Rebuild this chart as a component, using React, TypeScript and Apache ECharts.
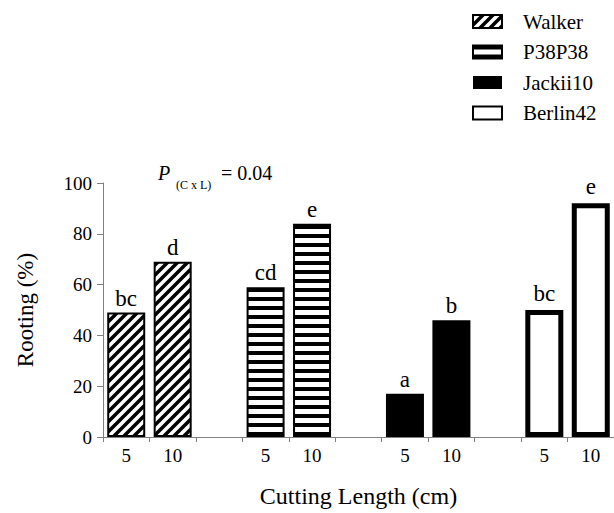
import React, { useEffect, useRef } from 'react';
import * as echarts from 'echarts';

const categories = ['5', '10', '', '5', '10', '', '5', '10', '', '5', '10'];
const seriesNames = ['Walker', 'P38P38', 'Jackii10', 'Berlin42'];
const walker = [49, 69, null, null, null, null, null, null, null, null, null];
const p38p38 = [null, null, null, 59, 84, null, null, null, null, null, null];
const jackii10 = [null, null, null, null, null, null, 17, 46, null, null, null];
const berlin42 = [null, null, null, null, null, null, null, null, null, 50, 92];
const letters = ['bc', 'd', '', 'cd', 'e', '', 'a', 'b', '', 'bc', 'e'];
const yTicks = [0, 20, 40, 60, 80, 100];

const FONT = 'Liberation Serif';

function diagTile(): HTMLCanvasElement {
  const c = document.createElement('canvas');
  c.width = 10;
  c.height = 10;
  const ctx = c.getContext('2d')!;
  ctx.fillStyle = '#fff';
  ctx.fillRect(0, 0, 10, 10);
  ctx.strokeStyle = '#000';
  ctx.lineWidth = 3.5;
  ctx.beginPath();
  ctx.moveTo(-5, 15); ctx.lineTo(15, -5);
  ctx.moveTo(-10, 10); ctx.lineTo(10, -10);
  ctx.moveTo(0, 20); ctx.lineTo(20, 0);
  ctx.stroke();
  return c;
}

function horizTile(): HTMLCanvasElement {
  const c = document.createElement('canvas');
  c.width = 4;
  c.height = 9;
  const ctx = c.getContext('2d')!;
  ctx.fillStyle = '#fff';
  ctx.fillRect(0, 0, 4, 9);
  ctx.fillStyle = '#000';
  ctx.fillRect(0, 0, 4, 4);
  return c;
}

export default function App() {
  const ref = useRef<HTMLDivElement>(null);
  useEffect(() => {
    document.body.style.margin = '0';
    const chart = echarts.init(ref.current!, null, { renderer: 'svg' });
    const label = (dist: number) => ({
      show: true,
      position: 'top',
      distance: dist,
      color: '#000',
      fontFamily: FONT,
      fontSize: 23,
      formatter: (p: any) => letters[p.dataIndex],
    });
    const common = { type: 'bar', barWidth: 38, barGap: '-100%' };
    chart.setOption({
      animation: false,
      textStyle: { fontFamily: FONT },
      legend: {
        orient: 'vertical',
        left: 467,
        top: 6,
        itemWidth: 29,
        itemHeight: 13,
        itemGap: 9.5,
        icon: 'rect',
        selectedMode: false,
        data: seriesNames,
        textStyle: { fontFamily: FONT, fontSize: 21, color: '#000', padding: [0, 0, 0, 16] },
      },
      grid: { left: 103, right: -2, top: 183, bottom: 76 },
      xAxis: {
        type: 'category',
        data: categories,
        boundaryGap: true,
        name: 'Cutting Length (cm)',
        nameLocation: 'middle',
        nameGap: 47,
        nameTextStyle: { fontFamily: FONT, fontSize: 24, color: '#000' },
        axisLine: { lineStyle: { color: '#808080', width: 1 } },
        axisTick: { show: true, length: 5, interval: 0, lineStyle: { color: '#808080' } },
        axisLabel: { fontFamily: FONT, fontSize: 19, color: '#000', margin: 9, interval: 0 },
      },
      yAxis: {
        type: 'value',
        min: yTicks[0],
        max: yTicks[yTicks.length - 1],
        interval: 20,
        name: 'Rooting (%)',
        nameLocation: 'middle',
        nameGap: 66,
        nameTextStyle: { fontFamily: FONT, fontSize: 23, color: '#000' },
        axisLine: { show: true, lineStyle: { color: '#808080', width: 1 } },
        axisTick: { show: true, length: 6, lineStyle: { color: '#808080' } },
        axisLabel: { fontFamily: FONT, fontSize: 19, color: '#000', margin: 11 },
        splitLine: { show: false },
      },
      series: [
        {
          ...common,
          name: seriesNames[0],
          data: walker,
          label: label(3),
          itemStyle: {
            color: { image: diagTile(), repeat: 'repeat' },
            borderColor: '#000',
            borderWidth: 2,
          },
        },
        {
          ...common,
          name: seriesNames[1],
          data: p38p38,
          label: label(3),
          itemStyle: {
            color: { image: horizTile(), repeat: 'repeat' },
            borderColor: '#000',
            borderWidth: 2,
          },
        },
        {
          ...common,
          name: seriesNames[2],
          data: jackii10,
          label: label(3),
          itemStyle: { color: '#000', borderColor: '#000', borderWidth: 0 },
        },
        {
          ...common,
          name: seriesNames[3],
          data: berlin42,
          label: label(5),
          itemStyle: { color: '#fff', borderColor: '#000', borderWidth: 5 },
        },
      ],
      graphic: [
        {
          type: 'text',
          x: 158,
          y: 173,
          style: { text: 'P', fontFamily: FONT, fontStyle: 'italic', fontSize: 20, fill: '#000', verticalAlign: 'middle' },
        },
        {
          type: 'text',
          x: 176,
          y: 185,
          style: { text: '(C x L)', fontFamily: FONT, fontSize: 12, fill: '#000', verticalAlign: 'middle' },
        },
        {
          type: 'text',
          x: 221,
          y: 173,
          style: { text: '= 0.04', fontFamily: FONT, fontSize: 20, fill: '#000', verticalAlign: 'middle' },
        },
      ],
    });
    ref.current!.querySelectorAll('text').forEach((t) => {
      (t as SVGTextElement).style.fontFamily = '"Liberation Serif", serif';
    });
    return () => chart.dispose();
  }, []);
  return (
    <div>
      <style>{`#rk-chart svg text { font-family: "Liberation Serif", serif !important; }`}</style>
      <div id="rk-chart" ref={ref} style={{ width: 614, height: 513 }} />
    </div>
  );
}
